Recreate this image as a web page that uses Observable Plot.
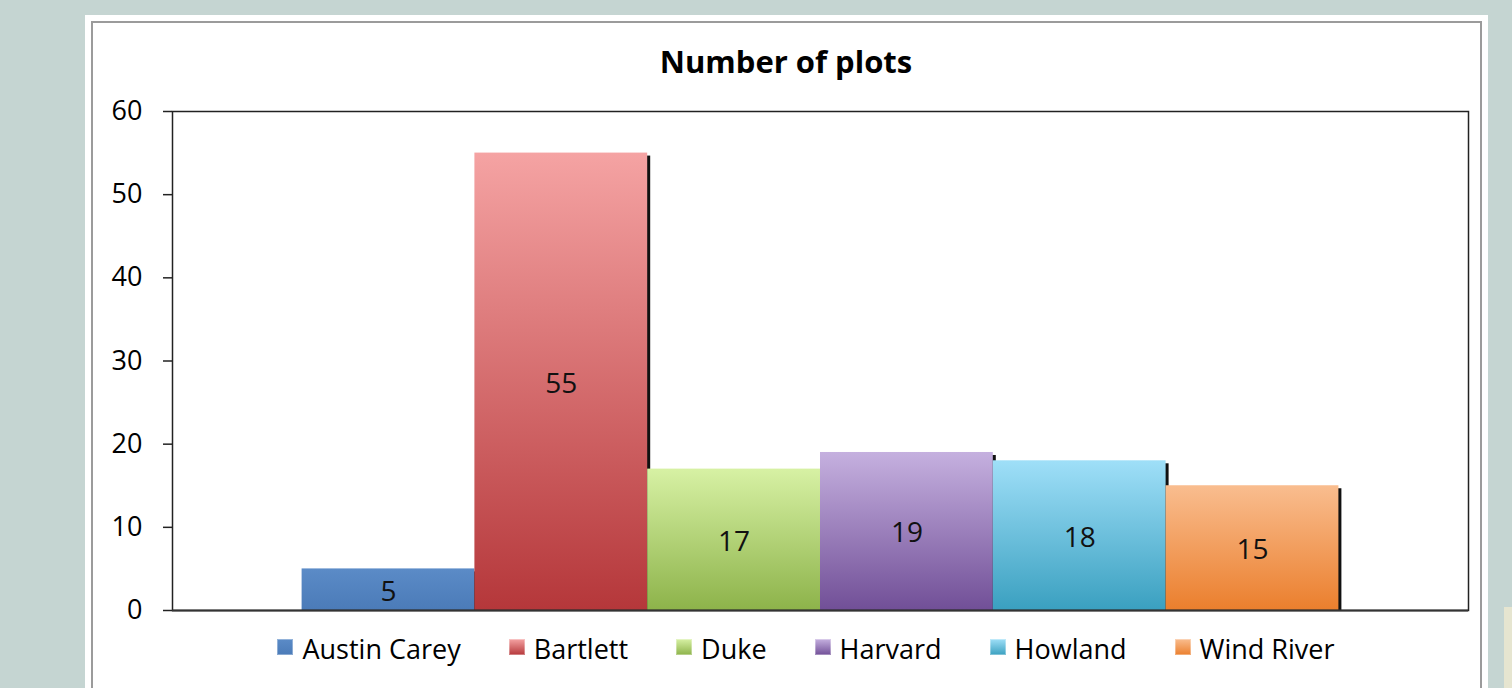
<!DOCTYPE html>
<html>
<head>
<meta charset="utf-8">
<script src="https://cdn.jsdelivr.net/npm/d3@7"></script>
<script src="https://cdn.jsdelivr.net/npm/@observablehq/plot@0.6"></script>
<style>
  html, body { margin: 0; padding: 0; }
  body {
    width: 1512px; height: 688px; overflow: hidden; position: relative;
    background: #c5d5d2; font-family: "Open Sans", sans-serif; color: #000;
  }
  #panel { position: absolute; left: 85px; top: 15px; width: 1403px; height: 700px; background: #fff; }
  #panel-line {
    position: absolute; left: 91px; top: 21px; width: 1391px; height: 700px;
    box-sizing: border-box; border: 2px solid #9b9b9b;
  }
  #corner { position: absolute; left: 1504px; top: 607px; width: 8px; height: 81px; background: #e6e5d0; }
  #title {
    position: absolute; left: 486px; top: 46px; width: 600px; text-align: center;
    font-size: 31px; font-weight: 700; line-height: 1;
  }
  #chart { position: absolute; left: 0; top: 95px; }
  #legend {
    position: absolute; left: 206px; top: 635px; width: 1200px;
    display: flex; justify-content: center; gap: 48px;
    font-size: 27px; line-height: 1;
  }
  .item { display: flex; align-items: center; gap: 9px; white-space: nowrap; }
  .key { width: 16px; height: 16px; margin-bottom: 4px; box-shadow: inset 0 0 0 1px rgba(255,255,255,0.35); }
</style>
</head>
<body>
<div id="panel"></div>
<div id="panel-line"></div>
<div id="corner"></div>
<div id="title">Number of plots</div>
<div id="chart"></div>
<div id="legend"></div>
<script>
// Research sites and the number of plots at each
const sites = ["Austin Carey", "Bartlett", "Duke", "Harvard", "Howland", "Wind River"];
const plotCounts = [5, 55, 17, 19, 18, 15];

// Bar shading: lighter tint at the top, full colour at the base
const topColors = ["#5b8bc7", "#f5a3a3", "#d7f1a4", "#c5b0df", "#9fdff8", "#f9bd8f"];
const baseColors = ["#4b7bb8", "#b5373a", "#8db34a", "#714f97", "#3aa0c0", "#eb7f2d"];

const yTicks = [0, 10, 20, 30, 40, 50, 60];

const data = sites.map((site, i) => ({site, count: plotCounts[i], shade: `url(#shade-${i})`}));

const chart = Plot.plot({
  width: 1512,
  height: 530,
  marginLeft: 172,
  marginRight: 44,
  marginTop: 16,
  marginBottom: 15,
  style: {fontFamily: "'Open Sans', sans-serif", color: "#000", background: "transparent", overflow: "visible"},
  x: {type: "band", domain: sites, paddingInner: 0, paddingOuter: 0.75, round: false, axis: null},
  y: {domain: [0, 60]},
  color: {type: "identity"},
  marks: [
    // drop shadow to the right of each bar
    Plot.barY(data, {x: "site", y: "count", fill: "#111", dx: 3, insetTop: 3}),
    Plot.barY(data, {x: "site", y: "count", fill: "shade"}),
    Plot.text(data, {x: "site", y: d => d.count / 2, text: d => String(d.count), fontSize: 28, fill: "#111", dy: 2}),
    Plot.frame({stroke: "#222", strokeWidth: 1.5}),
    Plot.axisY({ticks: yTicks, tickSize: 9, tickPadding: 21, label: null, fontSize: 27, strokeWidth: 1.5, stroke: "#222"}),
    Plot.ruleY([0], {stroke: "#333", strokeWidth: 2})
  ]
});

// gradient definitions referenced by the bar fills
const defs = d3.select(chart).insert("defs", ":first-child");
sites.forEach((s, i) => {
  const g = defs.append("linearGradient")
    .attr("id", `shade-${i}`).attr("x1", 0).attr("y1", 0).attr("x2", 0).attr("y2", 1);
  g.append("stop").attr("offset", "0%").attr("stop-color", topColors[i]);
  g.append("stop").attr("offset", "100%").attr("stop-color", baseColors[i]);
});

document.getElementById("chart").appendChild(chart);

// legend row
const legend = d3.select("#legend");
sites.forEach((s, i) => {
  const item = legend.append("div").attr("class", "item");
  item.append("div").attr("class", "key")
    .style("background", `linear-gradient(${topColors[i]}, ${baseColors[i]})`);
  item.append("span").text(s);
});
</script>
</body>
</html>
